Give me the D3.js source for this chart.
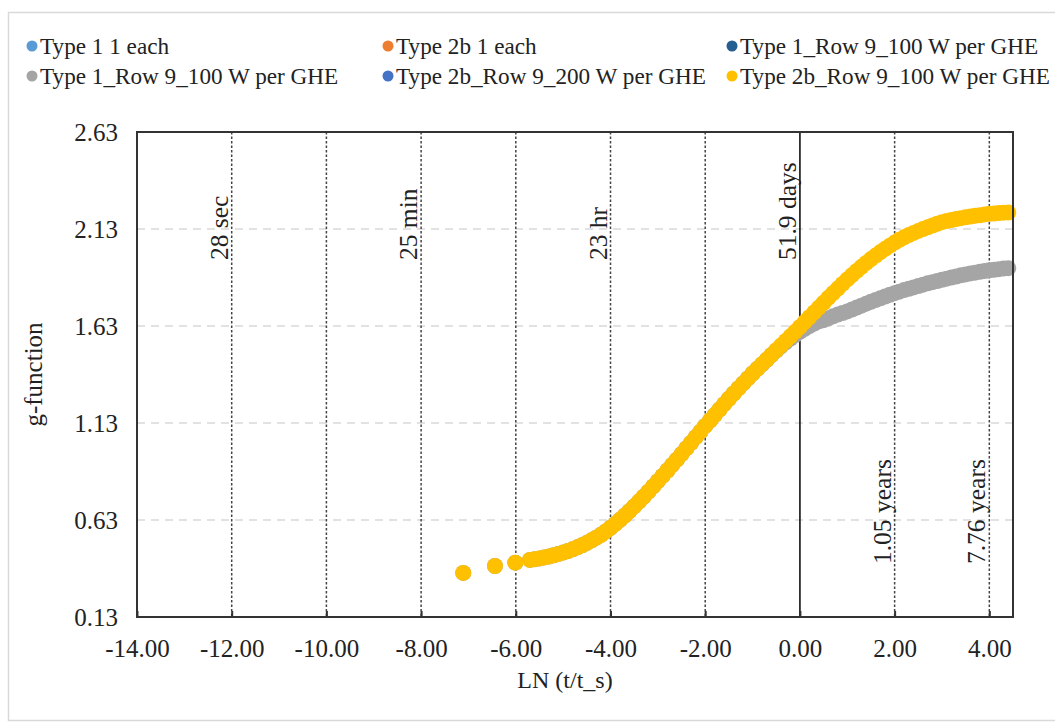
<!DOCTYPE html>
<html>
<head>
<meta charset="utf-8">
<script src="https://cdn.jsdelivr.net/npm/d3@7/dist/d3.min.js"></script>
<style>
  html, body { margin: 0; padding: 0; background: #ffffff; }
  svg { display: block; }
  svg text { font-family: "Liberation Serif", Tinos, "Times New Roman", "DejaVu Serif", serif !important; fill: #222; }
</style>
</head>
<body>
<svg id="chart" width="1055" height="726"></svg>
<script>
// g-function against logarithmic dimensionless time, ln(t/t_s)
const seriesNames = [
  "Type 1 1 each",
  "Type 2b 1 each",
  "Type 1_Row 9_100 W per GHE",
  "Type 1_Row 9_100 W per GHE",
  "Type 2b_Row 9_200 W per GHE",
  "Type 2b_Row 9_100 W per GHE"
];
const seriesColors = ["#5B9BD5", "#ED7D31", "#255E91", "#A5A5A5", "#4472C4", "#FFC000"];

const xTicks = [-14, -12, -10, -8, -6, -4, -2, 0, 2, 4];
const yTicks = [0.13, 0.63, 1.13, 1.63, 2.13, 2.63];

// dotted reference lines and their elapsed-time labels
const refLines = [-12, -10, -8, -6, -4, -2, 2, 4];
const timeLabels = [
  { x: -12, text: "28 sec", at: "top" },
  { x: -8, text: "25 min", at: "top" },
  { x: -4, text: "23 hr", at: "top" },
  { x: 0, text: "51.9 days", at: "top" },
  { x: 2, text: "1.05 years", at: "bottom" },
  { x: 4, text: "7.76 years", at: "bottom" }
];

// Type 2b_Row 9_100 W per GHE
const lnYellow = [-7.11, -6.44, -6.01,
  -5.7, -5.6, -5.5, -5.4, -5.3, -5.2, -5.1, -5.0, -4.9, -4.8, -4.7, -4.6, -4.5, -4.4, -4.3, -4.2, -4.1,
  -4.0, -3.9, -3.8, -3.7, -3.6, -3.5, -3.4, -3.3, -3.2, -3.1, -3.0, -2.9, -2.8, -2.7, -2.6, -2.5, -2.4,
  -2.3, -2.2, -2.1, -2.0, -1.9, -1.8, -1.7, -1.6, -1.5, -1.4, -1.3, -1.2, -1.1, -1.0, -0.9, -0.8, -0.7,
  -0.6, -0.5, -0.4, -0.3, -0.2, -0.1, 0.0, 0.1, 0.2, 0.3, 0.4, 0.5, 0.6, 0.7, 0.8, 0.9, 1.0, 1.1, 1.2,
  1.3, 1.4, 1.5, 1.6, 1.7, 1.8, 1.9, 2.0, 2.1, 2.2, 2.3, 2.4, 2.5, 2.6, 2.7, 2.8, 2.9, 3.0, 3.1, 3.2,
  3.3, 3.4, 3.5, 3.6, 3.7, 3.8, 3.9, 4.0, 4.1, 4.2, 4.3, 4.4];
const gYellow = [0.357, 0.393, 0.410,
  0.424, 0.428, 0.432, 0.437, 0.442, 0.448, 0.455, 0.462, 0.470, 0.479, 0.489, 0.500, 0.512, 0.525, 0.539, 0.554, 0.571,
  0.590, 0.610, 0.631, 0.653, 0.676, 0.700, 0.725, 0.750, 0.776, 0.803, 0.830, 0.857, 0.885, 0.913, 0.941, 0.970, 0.999,
  1.028, 1.057, 1.086, 1.115, 1.143, 1.171, 1.199, 1.227, 1.255, 1.282, 1.308, 1.334, 1.360, 1.385, 1.409, 1.433, 1.457,
  1.481, 1.505, 1.529, 1.553, 1.577, 1.601, 1.625, 1.650, 1.675, 1.700, 1.725, 1.750, 1.775, 1.799, 1.823, 1.847, 1.870, 1.892, 1.914,
  1.935, 1.955, 1.975, 1.993, 2.011, 2.028, 2.044, 2.060, 2.074, 2.087, 2.099, 2.110, 2.120, 2.130, 2.139, 2.148, 2.157, 2.165, 2.171, 2.176,
  2.181, 2.186, 2.190, 2.194, 2.198, 2.201, 2.205, 2.208, 2.210, 2.212, 2.214, 2.215];

// Type 1_Row 9_100 W per GHE (grey)
const lnGrey = lnYellow;
const gGrey = [0.357, 0.393, 0.410,
  0.424, 0.428, 0.432, 0.437, 0.442, 0.448, 0.455, 0.462, 0.470, 0.479, 0.489, 0.500, 0.512, 0.525, 0.539, 0.554, 0.571,
  0.590, 0.610, 0.631, 0.653, 0.676, 0.700, 0.725, 0.750, 0.776, 0.803, 0.830, 0.857, 0.885, 0.913, 0.941, 0.970, 0.999,
  1.028, 1.057, 1.086, 1.115, 1.143, 1.171, 1.199, 1.227, 1.255, 1.282, 1.308, 1.334, 1.360, 1.385, 1.409, 1.432, 1.456,
  1.480, 1.503, 1.525, 1.546, 1.565, 1.583, 1.600, 1.615, 1.629, 1.642, 1.654, 1.660, 1.670, 1.680, 1.689, 1.697, 1.705, 1.715, 1.725,
  1.735, 1.745, 1.755, 1.764, 1.773, 1.782, 1.791, 1.799, 1.807, 1.815, 1.822, 1.829, 1.836, 1.843, 1.850, 1.856, 1.862, 1.868, 1.874, 1.880,
  1.885, 1.891, 1.896, 1.901, 1.905, 1.909, 1.913, 1.917, 1.920, 1.923, 1.926, 1.928];

const W = 1055, H = 726;
const plot = { left: 137, right: 1013, top: 132, bottom: 617 };
const FONT = 24, LEGEND_FONT = 23.2, TICK_FONT = 25, NOTE_FONT = 25.5;
const fmt = d => d.toFixed(2);

const svg = d3.select("#chart");

// chart area frame
svg.append("rect")
  .attr("x", 8.5).attr("y", 12.5)
  .attr("width", W + 10).attr("height", H - 18)
  .attr("fill", "#fff").attr("stroke", "#d9d9d9").attr("stroke-width", 1.5);

const x = d3.scaleLinear().domain([-14, 4.5]).range([plot.left, plot.right]);
const y = d3.scaleLinear().domain([0.13, 2.63]).range([plot.bottom, plot.top]);

const g = svg.append("g");

// horizontal gridlines
g.append("g").selectAll("line")
  .data(yTicks.slice(1, -1))
  .join("line")
  .attr("x1", plot.left).attr("x2", plot.right)
  .attr("y1", d => y(d)).attr("y2", d => y(d))
  .attr("stroke", "#d9d9d9").attr("stroke-width", 1.5)
  .attr("stroke-dasharray", "8,6");

// dotted vertical reference lines
g.append("g").selectAll("line")
  .data(refLines)
  .join("line")
  .attr("x1", d => x(d)).attr("x2", d => x(d))
  .attr("y1", plot.top).attr("y2", plot.bottom)
  .attr("stroke", "#444").attr("stroke-width", 1.5)
  .attr("stroke-dasharray", "2.5,2");

// solid line at ln(t/t_s) = 0
g.append("line")
  .attr("x1", x(0)).attr("x2", x(0))
  .attr("y1", plot.top).attr("y2", plot.bottom)
  .attr("stroke", "#111").attr("stroke-width", 1.6);

// time labels beside the reference lines
g.append("g").selectAll("text")
  .data(timeLabels)
  .join("text")
  .attr("transform", d => `translate(${x(d.x) - 4},${d.at === "top" ? 260 : 564}) rotate(-90)`)
  .attr("font-size", NOTE_FONT)
  .text(d => d.text);

// data points
const series = [
  { ln: lnGrey, g: gGrey, color: seriesColors[3] },
  { ln: lnYellow, g: gYellow, color: seriesColors[5] }
];
series.forEach(s => {
  g.append("g").selectAll("circle")
    .data(d3.zip(s.ln, s.g))
    .join("circle")
    .attr("cx", d => x(d[0]))
    .attr("cy", d => y(d[1]))
    .attr("r", 8)
    .attr("fill", s.color);
});

// plot frame
g.append("rect")
  .attr("x", plot.left).attr("y", plot.top)
  .attr("width", plot.right - plot.left).attr("height", plot.bottom - plot.top)
  .attr("fill", "none").attr("stroke", "#333").attr("stroke-width", 2);

// x axis
const xAxis = d3.axisBottom(x).tickValues(xTicks).tickFormat(fmt)
  .tickSizeInner(-6).tickSizeOuter(0).tickPadding(22);
const xg = g.append("g").attr("transform", `translate(0,${plot.bottom})`).call(xAxis);
xg.attr("font-family", null).attr("font-size", null);
xg.select(".domain").remove();
xg.selectAll(".tick line").attr("stroke", "#333").attr("stroke-width", 2);
xg.selectAll(".tick text").attr("font-size", TICK_FONT).attr("fill", "#222");

// y axis
const yAxis = d3.axisLeft(y).tickValues(yTicks).tickFormat(fmt)
  .tickSize(0).tickPadding(19);
const yg = g.append("g").attr("transform", `translate(${plot.left},0)`).call(yAxis);
yg.attr("font-family", null).attr("font-size", null);
yg.select(".domain").remove();
yg.selectAll(".tick text").attr("font-size", TICK_FONT).attr("fill", "#222");

// axis titles
svg.append("text")
  .attr("x", (plot.left + plot.right) / 2 - 10).attr("y", 688)
  .attr("text-anchor", "middle").attr("font-size", FONT)
  .text("LN (t/t_s)");
svg.append("text")
  .attr("transform", `translate(42,${(plot.top + plot.bottom) / 2}) rotate(-90)`)
  .attr("text-anchor", "middle").attr("font-size", FONT + 1)
  .text("g-function");

// legend, three entries per row
const legendCols = [32, 388, 732];
const legendRows = [46, 76];
const legend = svg.append("g").selectAll("g")
  .data(seriesNames.map((name, i) => ({ name, color: seriesColors[i], i })))
  .join("g")
  .attr("transform", d => `translate(${legendCols[d.i % 3]},${legendRows[Math.floor(d.i / 3)]})`);
legend.append("circle").attr("r", 5.5).attr("fill", d => d.color);
legend.append("text")
  .attr("x", 8).attr("dy", "0.35em")
  .attr("font-size", LEGEND_FONT)
  .text(d => d.name);
</script>
</body>
</html>
